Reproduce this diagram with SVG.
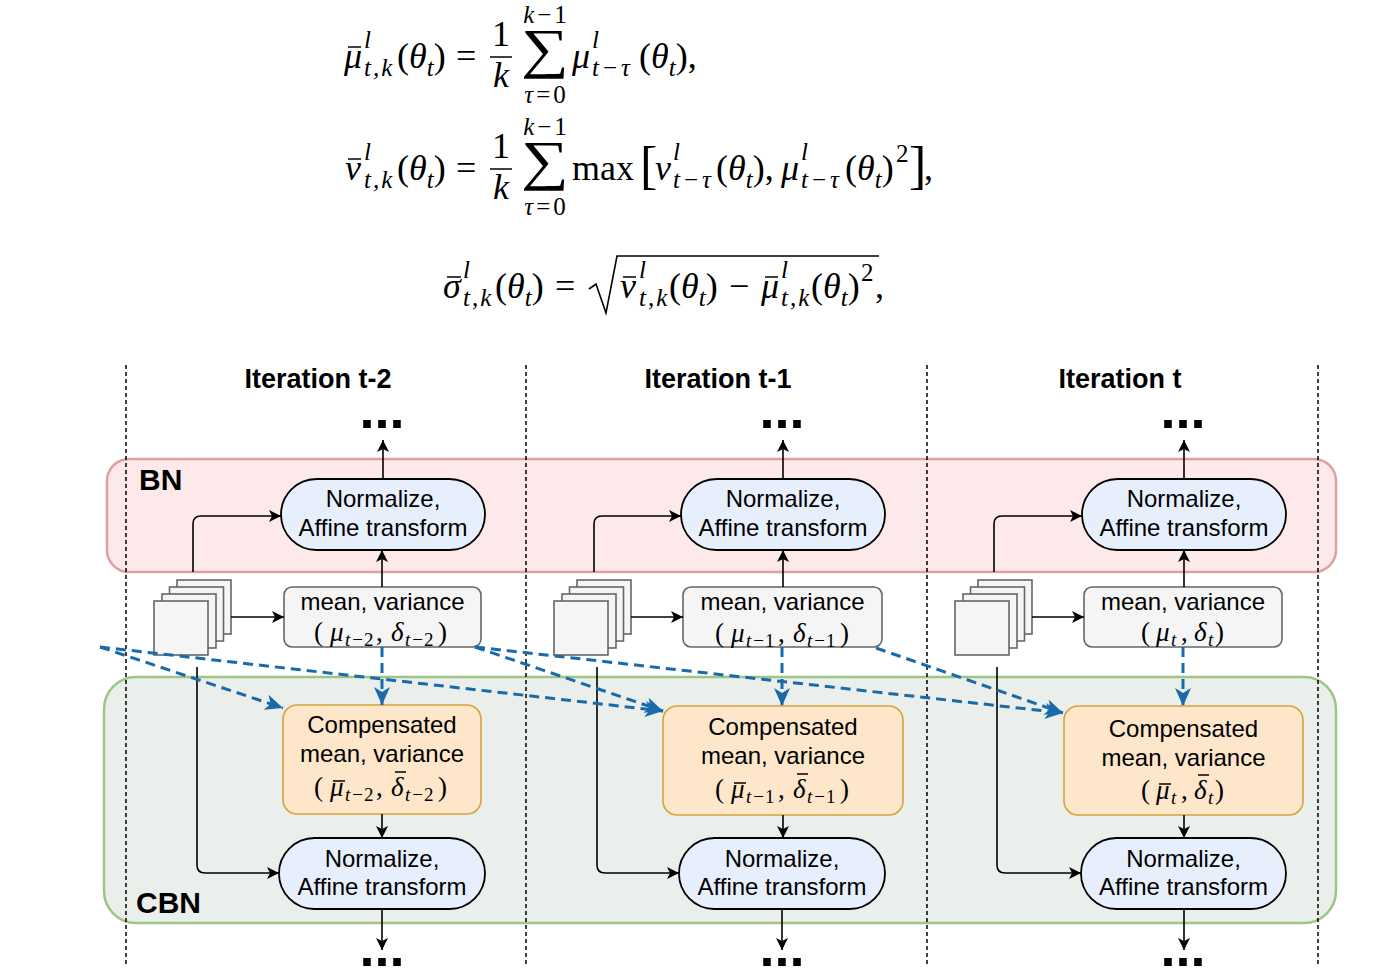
<svg xmlns="http://www.w3.org/2000/svg" width="1400" height="980" viewBox="0 0 1400 980">
<defs>
<style>
.sans{font-family:'Liberation Sans',Arial,sans-serif;fill:#000}
.b{font-weight:bold}
.t24{font-size:24px}
.ser{font-family:'Liberation Serif','Times New Roman',serif;fill:#000}
.m{font-size:36px}
.s{font-size:25px}
.it{font-style:italic}
.bm{font-size:27px}
.bs{font-size:19px}
.bar{stroke:#000;stroke-width:1.5}
.conn{fill:none;stroke:#000;stroke-width:1.6}
.dash{fill:none;stroke:#1a6aab;stroke-width:3;stroke-dasharray:10 6}
.div{stroke:#000;stroke-width:1.5;stroke-dasharray:4 3}
.norm{fill:#e8effc;stroke:#000;stroke-width:1.8}
.mv{fill:#f5f5f5;stroke:#666;stroke-width:1.6}
.comp{fill:#fde6c9;stroke:#d6a33c;stroke-width:1.6}
.sq{fill:#f5f5f5;stroke:#666;stroke-width:1.6}
.dots{font-family:'Liberation Sans',Arial,sans-serif;font-weight:bold;font-size:54px;text-anchor:middle}
</style>
<marker id="ah" markerUnits="userSpaceOnUse" markerWidth="12" markerHeight="12" viewBox="0 0 12 12" refX="12" refY="6" orient="auto">
<path d="M0,0 L12,6 L0,12 L3,6 z" fill="#000"/>
</marker>
<marker id="ahb" markerUnits="userSpaceOnUse" markerWidth="18" markerHeight="16" viewBox="0 0 18 16" refX="18" refY="8" orient="auto">
<path d="M0,0 L18,8 L0,16 L5,8 z" fill="#1a6aab"/>
</marker>
</defs>
<rect width="1400" height="980" fill="#fff"/>

<g id="equations">
<!-- line 1 -->
<text class="ser m it" x="344" y="68">μ</text>
<line class="bar" x1="348" y1="47" x2="361" y2="47"/>
<text class="ser s it" x="364" y="48">l</text>
<text class="ser s it" x="364" y="76" letter-spacing="2">t,k</text>
<text class="ser m" x="397" y="68">(<tspan class="it">θ</tspan><tspan class="s it" dy="8">t</tspan><tspan dy="-8">)</tspan></text>
<text class="ser m" x="456" y="68">=</text>
<text class="ser m" x="501" y="46" text-anchor="middle">1</text>
<line class="bar" x1="490" y1="57" x2="512" y2="57"/>
<text class="ser m it" x="501" y="87" text-anchor="middle">k</text>
<text class="ser" font-size="55" text-anchor="middle" transform="translate(545,67) scale(1.22,1)">∑</text>
<text class="ser s" x="545" y="23" text-anchor="middle"><tspan class="it">k</tspan><tspan dx="3">−</tspan><tspan dx="3">1</tspan></text>
<text class="ser s" x="545" y="103" text-anchor="middle"><tspan class="it">τ</tspan><tspan dx="3">=</tspan><tspan dx="3">0</tspan></text>
<text class="ser m it" x="572" y="68">μ</text>
<text class="ser s it" x="592" y="48">l</text>
<text class="ser s" x="592" y="76"><tspan class="it">t</tspan><tspan dx="4">−</tspan><tspan class="it" dx="4">τ</tspan></text>
<text class="ser m" x="639" y="68">(<tspan class="it">θ</tspan><tspan class="s it" dy="8">t</tspan><tspan dy="-8">),</tspan></text>
<!-- line 2 -->
<text class="ser m it" x="345" y="180">ν</text>
<line class="bar" x1="348" y1="159" x2="361" y2="159"/>
<text class="ser s it" x="364" y="160">l</text>
<text class="ser s it" x="364" y="188" letter-spacing="2">t,k</text>
<text class="ser m" x="397" y="180">(<tspan class="it">θ</tspan><tspan class="s it" dy="8">t</tspan><tspan dy="-8">)</tspan></text>
<text class="ser m" x="456" y="180">=</text>
<text class="ser m" x="501" y="158" text-anchor="middle">1</text>
<line class="bar" x1="490" y1="169" x2="512" y2="169"/>
<text class="ser m it" x="501" y="199" text-anchor="middle">k</text>
<text class="ser" font-size="55" text-anchor="middle" transform="translate(545,179) scale(1.22,1)">∑</text>
<text class="ser s" x="545" y="135" text-anchor="middle"><tspan class="it">k</tspan><tspan dx="3">−</tspan><tspan dx="3">1</tspan></text>
<text class="ser s" x="545" y="215" text-anchor="middle"><tspan class="it">τ</tspan><tspan dx="3">=</tspan><tspan dx="3">0</tspan></text>
<text class="ser m" x="572" y="180">max</text>
<text class="ser" x="640" y="183" font-size="52">[</text>
<text class="ser m it" x="655" y="180">ν</text>
<text class="ser s it" x="673" y="160">l</text>
<text class="ser s" x="673" y="188"><tspan class="it">t</tspan><tspan dx="4">−</tspan><tspan class="it" dx="4">τ</tspan></text>
<text class="ser m" x="716" y="180">(<tspan class="it">θ</tspan><tspan class="s it" dy="8">t</tspan><tspan dy="-8">),</tspan></text>
<text class="ser m it" x="781" y="180">μ</text>
<text class="ser s it" x="801" y="160">l</text>
<text class="ser s" x="801" y="188"><tspan class="it">t</tspan><tspan dx="4">−</tspan><tspan class="it" dx="4">τ</tspan></text>
<text class="ser m" x="845" y="180">(<tspan class="it">θ</tspan><tspan class="s it" dy="8">t</tspan><tspan dy="-8">)</tspan></text>
<text class="ser s" x="896" y="162">2</text>
<text class="ser" x="909" y="183" font-size="52">]</text>
<text class="ser m" x="924" y="180">,</text>
<!-- line 3 -->
<text class="ser m it" x="443" y="298">σ</text>
<line class="bar" x1="447" y1="277" x2="461" y2="277"/>
<text class="ser s it" x="463" y="278">l</text>
<text class="ser s it" x="463" y="306" letter-spacing="2">t,k</text>
<text class="ser m" x="495" y="298">(<tspan class="it">θ</tspan><tspan class="s it" dy="8">t</tspan><tspan dy="-8">)</tspan></text>
<text class="ser m" x="555" y="298">=</text>
<path d="M589,289 L596,284 L606,313 L617,256 L879,256" fill="none" stroke="#000" stroke-width="1.6"/>
<text class="ser m it" x="620" y="298">ν</text>
<line class="bar" x1="623" y1="277" x2="636" y2="277"/>
<text class="ser s it" x="639" y="278">l</text>
<text class="ser s it" x="639" y="306" letter-spacing="2">t,k</text>
<text class="ser m" x="669" y="298">(<tspan class="it">θ</tspan><tspan class="s it" dy="8">t</tspan><tspan dy="-8">)</tspan></text>
<text class="ser m" x="729" y="298">−</text>
<text class="ser m it" x="761" y="298">μ</text>
<line class="bar" x1="765" y1="277" x2="778" y2="277"/>
<text class="ser s it" x="781" y="278">l</text>
<text class="ser s it" x="781" y="306" letter-spacing="2">t,k</text>
<text class="ser m" x="811" y="298">(<tspan class="it">θ</tspan><tspan class="s it" dy="8">t</tspan><tspan dy="-8">)</tspan></text>
<text class="ser s" x="861" y="281">2</text>
<text class="ser m" x="875" y="298">,</text>
</g>

<g id="BN">
<rect x="107" y="459" width="1229" height="113" rx="22" fill="#fde9e9" stroke="#dea0a0" stroke-width="2.5"/>
<text class="sans b" x="139" y="490" font-size="30">BN</text>
</g>
<g id="CBN">
<rect x="104" y="677" width="1232" height="246" rx="32" fill="#ebefeb" stroke="#9dc686" stroke-width="2.5"/>
<text class="sans b" x="136" y="913" font-size="30">CBN</text>
</g>

<g id="dividers">
<line class="div" x1="126" y1="365" x2="126" y2="965"/>
<line class="div" x1="526" y1="365" x2="526" y2="965"/>
<line class="div" x1="927" y1="365" x2="927" y2="965"/>
<line class="div" x1="1318" y1="365" x2="1318" y2="965"/>
</g>

<g id="titles">
<text class="sans b" x="318" y="388" font-size="27" text-anchor="middle">Iteration t-2</text>
<text class="sans b" x="718" y="388" font-size="27" text-anchor="middle">Iteration t-1</text>
<text class="sans b" x="1120" y="388" font-size="27" text-anchor="middle">Iteration t</text>
</g>

<g id="dots">
<text class="dots" x="382" y="428">...</text>
<text class="dots" x="782" y="428">...</text>
<text class="dots" x="1183" y="428">...</text>
<text class="dots" x="382" y="966">...</text>
<text class="dots" x="782" y="966">...</text>
<text class="dots" x="1183" y="966">...</text>
</g>

<!-- column 1 -->
<g id="stack-1">
<rect class="sq" x="177" y="580" width="54" height="54"/>
<rect class="sq" x="169.5" y="587" width="54" height="54"/>
<rect class="sq" x="162" y="594" width="54" height="54"/>
<rect class="sq" x="154" y="601" width="54" height="54"/>
</g>
<g id="bn-norm-1">
<rect class="norm" x="281" y="479" width="204" height="71" rx="35.5"/>
<text class="sans t24" x="383" y="507" text-anchor="middle">Normalize,</text>
<text class="sans t24" x="383" y="536" text-anchor="middle">Affine transform</text>
</g>
<g id="meanvar-1">
<rect class="mv" x="284" y="587" width="197" height="60" rx="8"/>
<text class="sans t24" x="382.5" y="610" text-anchor="middle">mean, variance</text>
<text class="ser bm" y="641"><tspan x="314">(</tspan><tspan x="330" class="it">μ</tspan><tspan x="345" y="646" class="bs it">t</tspan><tspan class="bs" dx="2">−</tspan><tspan class="bs" dx="1">2</tspan><tspan x="376" y="641">,</tspan><tspan x="391" class="it">δ</tspan><tspan x="405" y="646" class="bs it">t</tspan><tspan class="bs" dx="2">−</tspan><tspan class="bs" dx="1">2</tspan><tspan x="438" y="641">)</tspan></text>
</g>
<g id="comp-1">
<rect class="comp" x="283" y="705" width="198" height="109" rx="14"/>
<text class="sans t24" x="382" y="733" text-anchor="middle">Compensated</text>
<text class="sans t24" x="382" y="762" text-anchor="middle">mean, variance</text>
<text class="ser bm" y="796"><tspan x="314">(</tspan><tspan x="330" class="it">μ</tspan><tspan x="345" y="801" class="bs it">t</tspan><tspan class="bs" dx="2">−</tspan><tspan class="bs" dx="1">2</tspan><tspan x="376" y="796">,</tspan><tspan x="391" class="it">δ</tspan><tspan x="405" y="801" class="bs it">t</tspan><tspan class="bs" dx="2">−</tspan><tspan class="bs" dx="1">2</tspan><tspan x="438" y="796">)</tspan></text>
<line class="bar" x1="333" y1="781" x2="345" y2="781"/>
<line class="bar" x1="395" y1="772" x2="406" y2="772"/>
</g>
<g id="cbn-norm-1">
<rect class="norm" x="279" y="838" width="206" height="71" rx="35.5"/>
<text class="sans t24" x="382" y="867" text-anchor="middle">Normalize,</text>
<text class="sans t24" x="382" y="895" text-anchor="middle">Affine transform</text>
</g>

<!-- column 2 -->
<g id="stack-2">
<rect class="sq" x="577" y="580" width="54" height="54"/>
<rect class="sq" x="569.5" y="587" width="54" height="54"/>
<rect class="sq" x="562" y="594" width="54" height="54"/>
<rect class="sq" x="554" y="601" width="54" height="54"/>
</g>
<g id="bn-norm-2">
<rect class="norm" x="681" y="479" width="204" height="71" rx="35.5"/>
<text class="sans t24" x="783" y="507" text-anchor="middle">Normalize,</text>
<text class="sans t24" x="783" y="536" text-anchor="middle">Affine transform</text>
</g>
<g id="meanvar-2">
<rect class="mv" x="683" y="587" width="199" height="60" rx="8"/>
<text class="sans t24" x="782.5" y="610" text-anchor="middle">mean, variance</text>
<text class="ser bm" y="642"><tspan x="715">(</tspan><tspan x="731" class="it">μ</tspan><tspan x="746" y="647" class="bs it">t</tspan><tspan class="bs" dx="2">−</tspan><tspan class="bs" dx="1">1</tspan><tspan x="778" y="642">,</tspan><tspan x="793" class="it">δ</tspan><tspan x="807" y="647" class="bs it">t</tspan><tspan class="bs" dx="2">−</tspan><tspan class="bs" dx="1">1</tspan><tspan x="840" y="642">)</tspan></text>
</g>
<g id="comp-2">
<rect class="comp" x="663" y="706" width="240" height="109" rx="14"/>
<text class="sans t24" x="783" y="735" text-anchor="middle">Compensated</text>
<text class="sans t24" x="783" y="764" text-anchor="middle">mean, variance</text>
<text class="ser bm" y="798"><tspan x="715">(</tspan><tspan x="731" class="it">μ</tspan><tspan x="746" y="803" class="bs it">t</tspan><tspan class="bs" dx="2">−</tspan><tspan class="bs" dx="1">1</tspan><tspan x="778" y="798">,</tspan><tspan x="793" class="it">δ</tspan><tspan x="807" y="803" class="bs it">t</tspan><tspan class="bs" dx="2">−</tspan><tspan class="bs" dx="1">1</tspan><tspan x="840" y="798">)</tspan></text>
<line class="bar" x1="734" y1="783" x2="746" y2="783"/>
<line class="bar" x1="797" y1="774" x2="808" y2="774"/>
</g>
<g id="cbn-norm-2">
<rect class="norm" x="679" y="838" width="206" height="71" rx="35.5"/>
<text class="sans t24" x="782" y="867" text-anchor="middle">Normalize,</text>
<text class="sans t24" x="782" y="895" text-anchor="middle">Affine transform</text>
</g>

<!-- column 3 -->
<g id="stack-3">
<rect class="sq" x="978" y="580" width="54" height="54"/>
<rect class="sq" x="970.5" y="587" width="54" height="54"/>
<rect class="sq" x="963" y="594" width="54" height="54"/>
<rect class="sq" x="955" y="601" width="54" height="54"/>
</g>
<g id="bn-norm-3">
<rect class="norm" x="1082" y="479" width="204" height="71" rx="35.5"/>
<text class="sans t24" x="1184" y="507" text-anchor="middle">Normalize,</text>
<text class="sans t24" x="1184" y="536" text-anchor="middle">Affine transform</text>
</g>
<g id="meanvar-3">
<rect class="mv" x="1084" y="587" width="198" height="60" rx="8"/>
<text class="sans t24" x="1183" y="610" text-anchor="middle">mean, variance</text>
<text class="ser bm" y="641"><tspan x="1141">(</tspan><tspan x="1156" class="it">μ</tspan><tspan x="1171" y="646" class="bs it">t</tspan><tspan x="1181" y="641">,</tspan><tspan x="1194" class="it">δ</tspan><tspan x="1208" y="646" class="bs it">t</tspan><tspan x="1215" y="641">)</tspan></text>
</g>
<g id="comp-3">
<rect class="comp" x="1064" y="706" width="239" height="109" rx="14"/>
<text class="sans t24" x="1183.5" y="737" text-anchor="middle">Compensated</text>
<text class="sans t24" x="1183.5" y="766" text-anchor="middle">mean, variance</text>
<text class="ser bm" y="799"><tspan x="1141">(</tspan><tspan x="1156" class="it">μ</tspan><tspan x="1171" y="804" class="bs it">t</tspan><tspan x="1181" y="799">,</tspan><tspan x="1194" class="it">δ</tspan><tspan x="1208" y="804" class="bs it">t</tspan><tspan x="1215" y="799">)</tspan></text>
<line class="bar" x1="1159" y1="784" x2="1171" y2="784"/>
<line class="bar" x1="1198" y1="775" x2="1209" y2="775"/>
</g>
<g id="cbn-norm-3">
<rect class="norm" x="1081" y="838" width="205" height="71" rx="35.5"/>
<text class="sans t24" x="1183.5" y="867" text-anchor="middle">Normalize,</text>
<text class="sans t24" x="1183.5" y="895" text-anchor="middle">Affine transform</text>
</g>

<g id="connectors">
<path class="conn" d="M231,617 H284" marker-end="url(#ah)"/>
<path class="conn" d="M193,572 V524 Q193,516 201,516 H281" marker-end="url(#ah)"/>
<path class="conn" d="M197,667 V865 Q197,873 205,873 H279" marker-end="url(#ah)"/>
<path class="conn" d="M382,587 V550" marker-end="url(#ah)"/>
<path class="conn" d="M383,479 V440" marker-end="url(#ah)"/>
<path class="conn" d="M382,814 V838" marker-end="url(#ah)"/>
<path class="conn" d="M382,909 V950" marker-end="url(#ah)"/>
<path class="conn" d="M631,617 H683" marker-end="url(#ah)"/>
<path class="conn" d="M594,572 V524 Q594,516 602,516 H681" marker-end="url(#ah)"/>
<path class="conn" d="M597,667 V865 Q597,873 605,873 H679" marker-end="url(#ah)"/>
<path class="conn" d="M783,587 V550" marker-end="url(#ah)"/>
<path class="conn" d="M783,479 V440" marker-end="url(#ah)"/>
<path class="conn" d="M783,815 V838" marker-end="url(#ah)"/>
<path class="conn" d="M782,909 V950" marker-end="url(#ah)"/>
<path class="conn" d="M1032,617 H1084" marker-end="url(#ah)"/>
<path class="conn" d="M994,572 V524 Q994,516 1002,516 H1082" marker-end="url(#ah)"/>
<path class="conn" d="M997,667 V865 Q997,873 1005,873 H1081" marker-end="url(#ah)"/>
<path class="conn" d="M1184,587 V550" marker-end="url(#ah)"/>
<path class="conn" d="M1184,479 V440" marker-end="url(#ah)"/>
<path class="conn" d="M1184,815 V838" marker-end="url(#ah)"/>
<path class="conn" d="M1184,909 V950" marker-end="url(#ah)"/>
<path class="dash" d="M382,647 V705" marker-end="url(#ahb)"/>
<path class="dash" d="M782,647 V706" marker-end="url(#ahb)"/>
<path class="dash" d="M1183,647 V706" marker-end="url(#ahb)"/>
<path class="dash" d="M100,647 L283,708" marker-end="url(#ahb)"/>
<path class="dash" d="M100,647 L663,711" marker-end="url(#ahb)"/>
<path class="dash" d="M475,647 L663,711" marker-end="url(#ahb)"/>
<path class="dash" d="M475,647 L1063,713" marker-end="url(#ahb)"/>
<path class="dash" d="M876,648 L1063,713" marker-end="url(#ahb)"/>
</g>
</svg>
